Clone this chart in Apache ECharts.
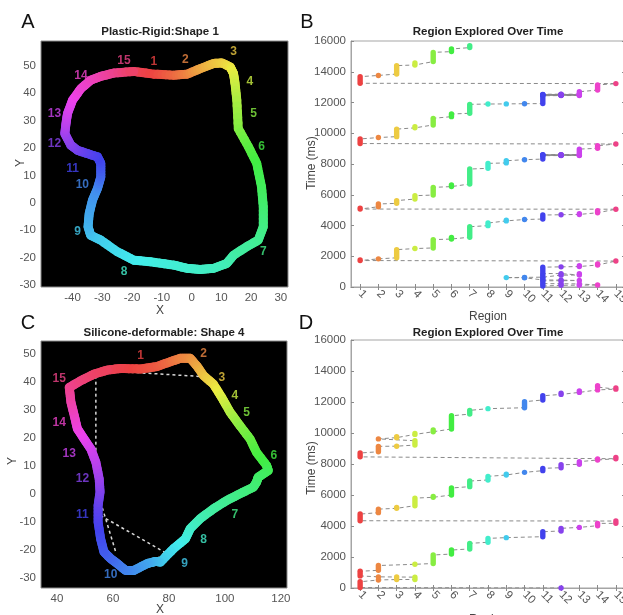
<!DOCTYPE html>
<html><head><meta charset="utf-8">
<script src="https://cdn.jsdelivr.net/npm/echarts@6/dist/echarts.min.js"></script>
<style>html,body{margin:0;padding:0;background:#fff}#c{width:623px;height:615px}</style>
</head><body><div id="c"></div>
<script>
// ---------- data ----------
const regions = [1,2,3,4,5,6,7,8,9,10,11,12,13,14,15];
const timeTicks = [0,2000,4000,6000,8000,10000,12000,14000,16000];
const shapeATicksX = [-40,-30,-20,-10,0,10,20,30];
const shapeATicksY = [-30,-20,-10,0,10,20,30,40,50];
const shapeCTicksX = [40,60,80,100,120];
const shapeCTicksY = [-30,-20,-10,0,10,20,30,40,50];

// Panel A: Plastic-Rigid shape 1 (x, y, region progress along contour)
const shapeAX = [-19.4,-12.7,-6.0,-1.5,2.9,7.4,10.2,13.0,14.1,14.6,15.2,15.7,19.1,21.9,23.5,24.1,24.1,22.4,18.5,14.1,11.8,7.4,2.9,-1.5,-6.0,-13.8,-19.4,-25.0,-30.5,-33.9,-34.8,-34.4,-33.3,-31.6,-30.5,-30.5,-31.6,-35.0,-38.3,-40.6,-42.6,-42.2,-41.7,-40.0,-37.2,-33.9,-30.5,-26.1,-19.4];
const shapeAY = [48.0,47.0,46.6,47.0,49.0,50.9,51.1,49.6,47.2,43.6,37.5,27.1,20.5,14.4,5.9,-1.4,-8.7,-13.6,-16.0,-19.1,-22.1,-23.9,-24.3,-23.9,-22.7,-21.5,-20.9,-17.8,-13.6,-11.8,-8.7,-3.9,1.0,5.3,9.5,14.4,16.8,18.0,19.2,21.1,25.3,29.0,32.6,37.5,41.7,44.8,46.2,47.4,48.0];
const shapeAP = [0.6,1.0,1.5,1.9,2.4,2.8,3.0,3.3,3.6,3.9,4.4,5.0,5.6,6.0,6.3,6.6,6.9,7.1,7.3,7.4,7.6,7.8,7.9,8.0,8.1,8.3,8.5,8.7,8.9,9.1,9.3,9.5,9.7,9.9,10.4,10.8,11.0,11.3,11.6,11.9,12.3,12.7,13.0,13.4,13.8,14.1,14.4,14.8,15.5];
const labelA = ['15','1','2','3','4','5','6','7','8','9','10','11','12','13','14'];
const labelAX = [-22.7,-12.7,-2.1,14.1,19.6,20.8,23.5,24.1,-22.7,-38.3,-36.7,-40.0,-46.1,-46.1,-37.2];
const labelAY = [52.0,51.5,52.1,55.1,44.2,32.6,20.5,-17.8,-25.1,-10.5,6.5,12.6,21.7,32.6,46.6];

// Panel C: Silicone-deformable shape 4
const shapeCX = [58.0,62.8,69.9,75.8,80.5,84.1,87.6,90.0,92.4,95.9,98.9,101.9,105.4,109.0,111.3,114.9,115.5,113.7,111.9,111.3,110.2,105.4,100.7,95.9,91.2,87.6,85.9,81.7,77.0,75.2,72.2,67.5,64.5,61.6,59.2,56.8,55.6,54.7,54.7,55.4,55.1,53.9,52.1,49.7,47.3,46.2,45.0,44.4,48.5,53.3,58.0];
const shapeCY = [44.3,44.9,44.7,45.6,47.3,48.5,48.5,45.8,42.3,39.3,34.5,29.2,24.4,19.7,14.9,10.2,8.4,7.2,6.0,4.2,2.45,0.1,-2.3,-5.3,-8.8,-12.4,-16.0,-19.5,-24.3,-24.1,-24.9,-27.3,-27.3,-24.9,-23.1,-20.7,-16.0,-10.0,-4.1,0.7,5.4,11.4,16.1,19.7,23.3,28.0,32.8,38.1,40.5,42.9,44.3];
const shapeCP = [0.6,0.8,1.1,1.3,1.6,1.9,2.1,2.4,2.8,3.2,3.7,4.3,4.9,5.4,5.8,6.1,6.25,6.4,6.5,6.6,6.7,6.9,7.1,7.3,7.6,7.9,8.2,8.6,9.0,9.2,9.5,9.8,10.0,10.2,10.4,10.6,10.8,11.1,11.4,11.8,12.2,12.7,13.0,13.3,13.6,14.0,14.4,14.8,15.1,15.4,15.6];
const labelC = ['1','2','3','4','5','6','7','8','9','10','11','12','13','14','15'];
const labelCX = [69.9,92.4,98.9,103.6,107.8,117.5,103.6,92.4,85.6,59.2,49.1,49.1,44.4,40.8,40.8];
const labelCY = [49.4,50.0,41.7,35.1,29.2,13.7,-7.4,-16.3,-24.9,-28.8,-7.3,5.4,14.3,25.6,41.1];
const cDashX1 = [53.9,62.0,55.6,55.6,75.8];
const cDashY1 = [42.3,43.8,-2.9,-7.7,-23.1];
const cDashX2 = [53.9,91.5,61.0,79.3,86.5];
const cDashY2 = [12.6,42.0,-20.7,-21.3,-14.8];

// Panel B: visits (region, start ms, end ms)
const bReg = [11,12,13,14,13,12,11,12,13,12,11,10,9,10,11,12,13,12,11,12,13,14,15,
  1,2,3,4,5,6,7,8,9,10,11,12,13,14,15,
  1,2,3,4,5,6,7,8,9,10,11,12,13,12,11,12,13,12,11,12,13,12,11,12,13,14,15,
  1,2,3,4,5,6,7,8,9,10,11,12,13,12,11,12,13,12,11,12,13,12,11,12,13,12,11,12,13,14,15,
  1,2,3,4,5,6,7];
const bStart = [60,110,120,130,200,215,220,410,420,450,460,600,610,625,640,770,780,870,880,1310,1330,1430,1690,
  1720,1830,1900,2500,2540,3120,3240,3990,4300,4390,4420,4700,4720,4830,5060,
  5070,5220,5440,5720,5980,6530,6700,7720,8070,8280,8320,8550,8555,8560,8565,8570,8575,8580,8585,8590,8595,8600,8605,8610,8615,9020,9300,
  9330,9720,9780,10350,10540,11080,11300,11900,11910,11920,11930,12450,12455,12465,12470,12475,12480,12485,12490,12495,12500,12505,12510,12515,12520,12525,12530,12535,12540,12810,13230,
  13250,13760,13850,14440,14660,15310,15570];
const bEnd = [100,110,120,150,210,215,400,410,440,450,580,600,610,625,760,770,860,870,1290,1310,1380,1500,1690,
  1760,1850,2430,2520,3080,3230,3920,4160,4350,4390,4680,4700,4760,4960,5060,
  5130,5400,5620,5940,6480,6630,7670,8040,8210,8280,8540,8550,8555,8560,8565,8570,8575,8580,8585,8590,8595,8600,8605,8610,8970,9190,9320,
  9630,9740,10270,10430,10970,11250,11880,11900,11910,11920,12440,12450,12460,12465,12470,12475,12480,12485,12490,12495,12500,12505,12510,12515,12520,12525,12530,12535,12700,13140,13230,
  13680,13760,14400,14570,15260,15480,15700];

// Panel D: visits (region, start ms, end ms)
const dReg = [12,1,2,3,4,3,2,1,2,4,5,6,7,8,9,11,12,13,14,15,
  1,2,3,4,5,6,7,8,9,10,11,12,13,14,15,
  1,2,3,4,2,3,4,5,6,7,8,10,11,12,13,14,15,14];
const dStart = [0,30,520,545,550,710,720,780,1140,1530,1580,2190,2520,2950,3250,3310,3680,3910,4020,4170,
  4340,4860,5140,5310,5850,6000,6540,6970,7290,7460,7570,7760,7980,8260,8340,
  8460,8790,9150,9220,9620,9700,9910,10080,10260,11220,11570,11630,12130,12490,12620,12780,12830,12960];
const dEnd = [0,400,540,545,700,710,740,1080,1450,1530,2130,2450,2880,3200,3270,3630,3850,3910,4170,4320,
  4770,5090,5200,5800,5910,6450,6900,7200,7350,7460,7720,7950,8150,8320,8430,
  8710,9140,9180,9500,9620,9760,9970,10190,11110,11460,11570,12020,12400,12560,12720,12800,12900,13050];

// ---------- helpers ----------
function hsv(h, s, v) {
  const f = n => { const k = (n + h / 60) % 6; return v - v * s * Math.max(Math.min(k, 4 - k, 1), 0); };
  const c = x => Math.round(x * 255);
  return 'rgb(' + c(f(5)) + ',' + c(f(3)) + ',' + c(f(1)) + ')';
}
function regionColor(p) {
  const h = (((p - 1) * 24) % 360 + 360) % 360;
  return hsv(h, 0.72, 0.93);
}
const FONT = "'Liberation Sans', Arial, Helvetica, sans-serif";

function contourSeries(xs, ys, ps, idx) {
  const data = [];
  for (let i = 0; i < xs.length - 1; i++) data.push([xs[i], ys[i], xs[i+1], ys[i+1], ps[i], ps[i+1]]);
  return {
    type: 'custom', xAxisIndex: idx, yAxisIndex: idx, data: data, silent: true, animation: false,
    encode: { x: [0, 2], y: [1, 3] }, z: 3,
    renderItem: function (params, api) {
      const a = api.coord([api.value(0), api.value(1)]);
      const b = api.coord([api.value(2), api.value(3)]);
      const p1 = api.value(4), p2 = api.value(5);
      const n = 5, ch = [];
      for (let k = 0; k < n; k++) {
        const t1 = k / n, t2 = (k + 1) / n;
        ch.push({ type: 'line',
          shape: { x1: a[0] + (b[0]-a[0])*t1, y1: a[1] + (b[1]-a[1])*t1, x2: a[0] + (b[0]-a[0])*t2, y2: a[1] + (b[1]-a[1])*t2 },
          style: { stroke: regionColor(p1 + (p2 - p1) * (k + 0.5) / n), lineWidth: 9, lineCap: 'round' } });
      }
      return { type: 'group', children: ch };
    }
  };
}
function labelSeries(names, xs, ys, idx) {
  return {
    type: 'scatter', xAxisIndex: idx, yAxisIndex: idx, symbolSize: 1, silent: true, animation: false, z: 5,
    itemStyle: { color: 'rgba(0,0,0,0)' },
    data: names.map((t, i) => ({ value: [xs[i], ys[i]],
      label: { show: true, position: 'inside', formatter: t, color: regionColor(+t),
               fontWeight: 'bold', fontSize: 12, fontFamily: FONT } }))
  };
}
function visitPath(reg, st, en) {
  const d = [];
  for (let i = 0; i < reg.length; i++) { d.push([reg[i], st[i]]); if (en[i] !== st[i]) d.push([reg[i], en[i]]); }
  return d;
}
function pathLine(reg, st, en, idx) {
  return { type: 'line', xAxisIndex: idx, yAxisIndex: idx, data: visitPath(reg, st, en),
    showSymbol: false, symbol: 'none', silent: true, animation: false, z: 2,
    lineStyle: { color: '#8a8a8a', width: 1, type: [4, 3] } };
}
function markSeries(reg, st, en, idx) {
  return {
    type: 'custom', xAxisIndex: idx, yAxisIndex: idx, silent: true, animation: false, z: 4,
    data: reg.map((r, i) => [r, st[i], en[i]]), encode: { x: 0, y: [1, 2] },
    renderItem: function (params, api) {
      const r = api.value(0);
      const a = api.coord([r, api.value(1)]), b = api.coord([r, api.value(2)]);
      const col = regionColor(r);
      if (Math.abs(a[1] - b[1]) < 0.6) {
        return { type: 'circle', shape: { cx: a[0], cy: a[1], r: 2.7 }, style: { fill: col } };
      }
      return { type: 'line', shape: { x1: a[0], y1: a[1], x2: b[0], y2: b[1] },
               style: { stroke: col, lineWidth: 5.4, lineCap: 'round' } };
    }
  };
}
function dashSeries(x1, y1, x2, y2, idx) {
  return {
    type: 'custom', xAxisIndex: idx, yAxisIndex: idx, silent: true, animation: false, z: 2,
    data: x1.map((v, i) => [v, y1[i], x2[i], y2[i]]), encode: { x: [0, 2], y: [1, 3] },
    renderItem: function (params, api) {
      const a = api.coord([api.value(0), api.value(1)]), b = api.coord([api.value(2), api.value(3)]);
      return { type: 'line', shape: { x1: a[0], y1: a[1], x2: b[0], y2: b[1] },
               style: { stroke: '#d8d8d8', lineWidth: 1.5, lineDash: [3, 3] } };
    }
  };
}

const plain = v => String(v);
const tickLabel = { color: '#555', fontSize: 11.5, fontFamily: FONT, formatter: plain };
function shapeAxis(idx, min, max, ticks) {
  return { gridIndex: idx, type: 'value', min: min, max: max,
    axisLine: { show: false }, splitLine: { show: false },
    axisTick: { show: false, customValues: ticks },
    axisLabel: Object.assign({ customValues: ticks, margin: 5 }, tickLabel) };
}
function regionX(idx, pos, labels) {
  return { gridIndex: idx, type: 'value', min: 0.5, max: 15.5, position: pos,
    axisLine: { show: true, lineStyle: { color: '#a5a5a5' } }, splitLine: { show: false },
    axisTick: { show: true, inside: true, length: 3, customValues: regions, lineStyle: { color: '#8a8a8a' } },
    axisLabel: labels ? Object.assign({ customValues: regions, rotate: -45, margin: 5 }, tickLabel) : { show: false } };
}
function timeY(idx, pos, labels) {
  return { gridIndex: idx, type: 'value', min: 0, max: 16000, interval: 2000, position: pos,
    axisLine: { show: true, lineStyle: { color: '#a5a5a5' } }, splitLine: { show: false },
    axisTick: { show: true, inside: true, length: 3, lineStyle: { color: '#8a8a8a' } },
    axisLabel: labels ? Object.assign({ margin: 5 }, tickLabel) : { show: false } };
}

function txt(text, x, y, font, fill, rot) {
  return { type: 'text', x: x, y: y, rotation: rot || 0, silent: true,
    style: { text: text, font: font, fill: fill, textAlign: 'center', textVerticalAlign: 'middle',
             align: 'center', verticalAlign: 'middle' } };
}
const letterFont = '20px ' + FONT;
const titleFont = 'bold 11.5px ' + FONT;
const nameFont = '12px ' + FONT;

const option = {
  backgroundColor: '#ffffff',
  animation: false,
  grid: [
    { left: 41, top: 41, width: 247, height: 246, show: true, backgroundColor: '#000', borderColor: '#8a8a8a', borderWidth: 1, outerBoundsMode: 'none', containLabel: false },
    { left: 351, top: 41, width: 274, height: 246, show: true, backgroundColor: '#fff', borderColor: '#a5a5a5', borderWidth: 1, outerBoundsMode: 'none', containLabel: false },
    { left: 41, top: 341, width: 246, height: 247, show: true, backgroundColor: '#000', borderColor: '#8a8a8a', borderWidth: 1, outerBoundsMode: 'none', containLabel: false },
    { left: 351, top: 340, width: 274, height: 248, show: true, backgroundColor: '#fff', borderColor: '#a5a5a5', borderWidth: 1, outerBoundsMode: 'none', containLabel: false }
  ],
  xAxis: [
    shapeAxis(0, -50.6, 32.4, shapeATicksX),
    regionX(1, 'bottom', true),
    shapeAxis(2, 34.3, 122.2, shapeCTicksX),
    regionX(3, 'bottom', true),
    regionX(1, 'top', false),
    regionX(3, 'top', false)
  ],
  yAxis: [
    shapeAxis(0, -30.7, 59.1, shapeATicksY),
    timeY(1, 'left', true),
    shapeAxis(2, -33.6, 54.7, shapeCTicksY),
    timeY(3, 'left', true),
    timeY(1, 'right', false),
    timeY(3, 'right', false)
  ],
  series: [
    contourSeries(shapeAX, shapeAY, shapeAP, 0),
    labelSeries(labelA, labelAX, labelAY, 0),
    pathLine(bReg, bStart, bEnd, 1),
    markSeries(bReg, bStart, bEnd, 1),
    dashSeries(cDashX1, cDashY1, cDashX2, cDashY2, 2),
    contourSeries(shapeCX, shapeCY, shapeCP, 2),
    labelSeries(labelC, labelCX, labelCY, 2),
    pathLine(dReg, dStart, dEnd, 3),
    markSeries(dReg, dStart, dEnd, 3)
  ],
  graphic: [
    txt('A', 28, 22, letterFont, '#111'),
    txt('B', 307, 22, letterFont, '#111'),
    txt('C', 28, 323, letterFont, '#111'),
    txt('D', 306, 323, letterFont, '#111'),
    txt('Plastic-Rigid:Shape 1', 160, 32, titleFont, '#222'),
    txt('Region Explored Over Time', 488, 32, titleFont, '#222'),
    txt('Silicone-deformable: Shape 4', 164, 333, titleFont, '#222'),
    txt('Region Explored Over Time', 488, 333, titleFont, '#222'),
    txt('X', 160, 311, nameFont, '#444'),
    txt('X', 160, 610, nameFont, '#444'),
    txt('Y', 21, 163, nameFont, '#444', Math.PI / 2),
    txt('Y', 13, 461, nameFont, '#444', Math.PI / 2),
    txt('Time (ms)', 312, 163, nameFont, '#444', Math.PI / 2),
    txt('Time (ms)', 312, 468, nameFont, '#444', Math.PI / 2),
    txt('Region', 488, 317, nameFont, '#444'),
    txt('Region', 488, 620, nameFont, '#444')
  ]
};
const chart = echarts.init(document.getElementById('c'), null, { renderer: 'canvas' });
chart.setOption(option);
</script></body></html>
